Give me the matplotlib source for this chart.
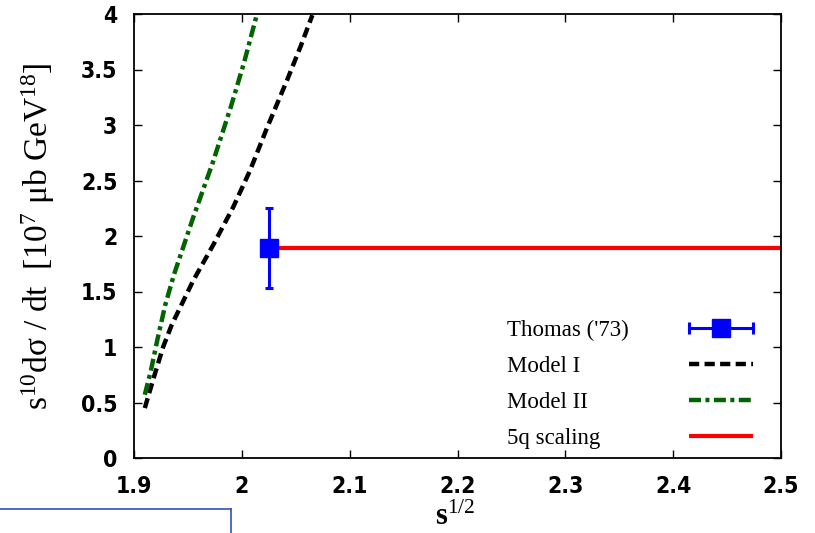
import matplotlib
matplotlib.use("Agg")
import matplotlib.pyplot as plt
from matplotlib.lines import Line2D
from matplotlib import font_manager as fm
from matplotlib.legend_handler import HandlerLine2D

# ---- data ----
model1_x = [1.910, 1.9185, 1.927, 1.935, 1.945, 1.955, 1.9735, 1.992, 2.0076, 2.0236, 2.0422, 2.0546, 2.0654]
model1_y = [0.45, 0.73, 1.00, 1.20, 1.40, 1.60, 1.92, 2.26, 2.59, 2.98, 3.41, 3.71, 3.99]

model2_x = [1.910, 1.9155, 1.922, 1.929, 1.937, 1.946, 1.955, 1.973, 1.9897, 2.002, 2.0138]
model2_y = [0.57, 0.78, 1.08, 1.38, 1.65, 1.91, 2.17, 2.66, 3.16, 3.56, 3.99]

thomas_x = [2.025]
thomas_y = [1.89]
thomas_err_lo = [0.36]
thomas_err_hi = [0.36]

scaling_x = [2.025, 2.5]
scaling_y = [1.89, 1.89]

xticks = [1.9, 2.0, 2.1, 2.2, 2.3, 2.4, 2.5]
xtick_labels = ["1.9", "2", "2.1", "2.2", "2.3", "2.4", "2.5"]
yticks = [0, 0.5, 1, 1.5, 2, 2.5, 3, 3.5, 4]
ytick_labels = ["0", "0.5", "1", "1.5", "2", "2.5", "3", "3.5", "4"]

labels = ["Thomas ('73)", "Model I", "Model II", "5q scaling"]

plt.rcParams['mathtext.fontset'] = 'custom'
plt.rcParams['mathtext.rm'] = 'Liberation Serif'
plt.rcParams['mathtext.bf'] = 'Liberation Serif:bold'
plt.rcParams['mathtext.sf'] = 'Liberation Sans:bold'
plt.rcParams['mathtext.it'] = 'Liberation Serif:italic'

# pick a condensed/narrow bold sans for the tick labels if one exists
tick_fp = None
for f in fm.fontManager.ttflist:
    nm = f.name.lower()
    narrow = ('narrow' in nm) or ('condensed' in nm) or (str(f.stretch) in ('condensed', 'semi-condensed', 'extra-condensed', '300', '400'))
    if narrow and (f.weight in ('bold', 700, '700') or 'bold' in f.fname.lower()) and 'sans' in nm and 'mono' not in nm:
        tick_fp = fm.FontProperties(fname=f.fname, size=16.5)
        break
if tick_fp is None:
    tick_fp = fm.FontProperties(family=['Liberation Sans', 'DejaVu Sans'], weight='bold', size=15)

fig = plt.figure(figsize=(8.15, 5.33), dpi=100)
ax = fig.add_axes([134/815, 1-458/533, (781-134)/815, (458-14)/533])

l_scal, = ax.plot(scaling_x, scaling_y, color='#ff0000', lw=3.0, solid_capstyle='butt', zorder=2)
l_m1, = ax.plot(model1_x, model1_y, color='black', lw=3.2, dashes=(2.3, 1.2), zorder=3)
l_m2, = ax.plot(model2_x, model2_y, color='#006400', lw=3.2, dashes=(2.7, 1.0, 0.9, 1.0), zorder=3)
eb = ax.errorbar(thomas_x, thomas_y, yerr=[thomas_err_lo, thomas_err_hi], fmt='s',
                 color='#0000ff', ms=12.5, elinewidth=2.2, capsize=3, capthick=2.2, zorder=4)

ax.set_xlim(1.9, 2.5)
ax.set_ylim(0, 4)

ax.set_xticks(xticks)
ax.set_xticklabels(xtick_labels, fontproperties=tick_fp)
ax.set_yticks(yticks)
ax.set_yticklabels(ytick_labels, fontproperties=tick_fp)
ax.tick_params(direction='in', top=True, right=True, length=6, width=1)
ax.tick_params(axis='x', pad=12)
ax.tick_params(axis='y', pad=12)
for s in ax.spines.values():
    s.set_linewidth(1.3)

ax.set_ylabel('s$^{10}$dσ / dt  [10$^{7}$ μb GeV$^{18}$]', family='Liberation Serif', size=24)
ax.yaxis.set_label_coords((57-134)/647, 0.5)
ax.set_xlabel(r'$\mathbf{s}^{1/2}$', size=22)
ax.xaxis.set_label_coords((455-134)/647, (458-502)/444)

# legend handle for the data point: horizontal bar with end caps and a square
cap_line = Line2D([], [], color='#0000ff', lw=2.2, marker='|', ms=9, mew=2.2)
sq = Line2D([], [], color='#0000ff', lw=0, marker='s', ms=12.5)

fs = 16.5
leg = ax.legend([(cap_line, sq), l_m1, l_m2, l_scal], labels, loc='upper left',
                bbox_to_anchor=((507-134)/647, (458-320)/444), frameon=False,
                markerfirst=False, prop=dict(family='Liberation Serif', size=fs),
                handlelength=2.8, borderpad=0, borderaxespad=0, labelspacing=0.65,
                handletextpad=1.0,
                handler_map={cap_line: HandlerLine2D(numpoints=2, marker_pad=0)})
col = leg._legend_handle_box.get_children()[0]
col.width = 246
for item in col.get_children():
    item.mode = 'expand'

# slide artifact: blue box outline at bottom-left
fig.add_artist(Line2D([0, 231/815], [1-509/533, 1-509/533], color='#3050c0', lw=1.2, transform=fig.transFigure))
fig.add_artist(Line2D([231/815, 231/815], [1-509/533, 0], color='#3050c0', lw=1.2, transform=fig.transFigure))

fig.savefig('out.png', dpi=100)
